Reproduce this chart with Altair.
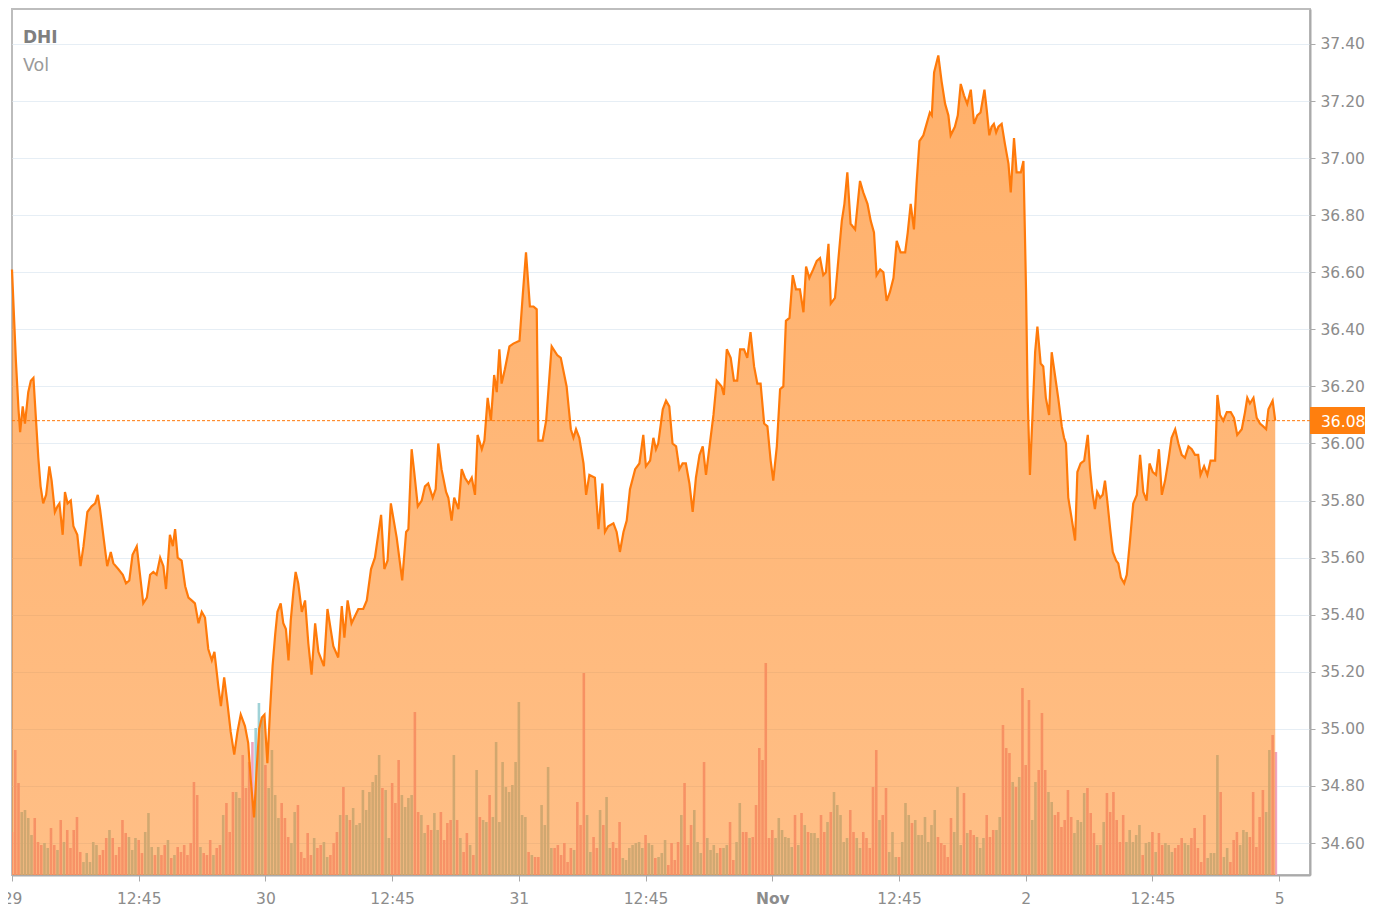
import altair as alt
import pandas as pd
import numpy as np

# ---- price line (x = 5-minute bar index since Oct 29 open, price in USD) ----
t_29 = [0, 1.2, 2.0, 2.5, 3.3, 4.0, 5.0, 5.8, 6.6, 7.4,
        8.1, 8.8, 9.6, 10.5, 11.5, 12.2, 13.2, 14.0, 14.6, 15.6,
        16.3, 17.1, 18.1, 18.9, 20.1, 21.1, 22.0, 23.2, 24.5, 25.6,
        26.4, 27.1, 28.3, 29.3, 30.4, 31.2, 32.7, 34.1, 35.1, 36.1,
        37.1, 38.4, 39.4, 40.4, 41.5, 42.5, 43.5, 44.5, 45.6, 46.6,
        47.4, 48.6, 49.5, 50.2, 51.0, 52.2, 53.3, 54.3, 55.3, 56.3,
        57.4, 58.4, 59.4, 60.4, 61.5, 62.3, 63.5, 64.3, 65.3, 66.3,
        67.3, 68.4, 69.4, 70.4, 71.7, 72.7, 73.5, 74.5, 75.3, 76.1,
        76.9, 77.7, 78.6, 79.4, 80.2, 81.0, 81.7, 82.7, 83.5, 84.3,
        85.1, 85.8, 86.6, 87.3, 88.1, 89.2, 90.2, 91.2, 92.2, 93.3,
        94.3]
p_29 = [36.61, 36.29, 36.12, 36.04, 36.13, 36.07, 36.18, 36.22, 36.23, 36.08,
        35.95, 35.85, 35.79, 35.82, 35.92, 35.87, 35.76, 35.78, 35.79, 35.68,
        35.83, 35.79, 35.80, 35.71, 35.68, 35.57, 35.64, 35.76, 35.78, 35.79,
        35.82, 35.77, 35.66, 35.57, 35.62, 35.58, 35.56, 35.54, 35.51, 35.52,
        35.61, 35.64, 35.54, 35.44, 35.46, 35.54, 35.55, 35.54, 35.60, 35.57,
        35.49, 35.68, 35.64, 35.70, 35.60, 35.59, 35.50, 35.46, 35.45, 35.44,
        35.37, 35.41, 35.39, 35.28, 35.24, 35.27, 35.15, 35.08, 35.18, 35.09,
        34.99, 34.91, 34.99, 35.05, 35.01, 34.95, 34.82, 34.69, 34.86, 35.00,
        35.04, 35.05, 34.88, 35.06, 35.22, 35.33, 35.41, 35.44, 35.37, 35.35,
        35.24, 35.38, 35.48, 35.55, 35.51, 35.41, 35.45, 35.30, 35.19, 35.37,
        35.27]

t_30 = [96.0, 97.1, 98.9, 100.4, 101.5, 102.3, 103.3, 104.5, 106.6, 108.1,
        109.2, 110.5, 111.7, 113.6, 114.6, 115.6, 116.6, 118.4, 120.1, 121.3,
        122.0, 123.0, 123.8, 124.9, 126.1, 127.1, 128.1, 129.5, 130.4, 131.2,
        132.2, 133.6, 134.3, 135.3, 136.1, 137.4, 138.4, 139.4, 140.5, 141.5,
        142.5, 143.3, 144.6, 145.4, 146.4, 147.4, 148.4, 149.2, 150.0, 150.7,
        151.7, 153.1, 154.3, 156.2, 157.2, 158.2, 159.4, 160.5, 161.5, 162.0,
        163.3, 164.4, 166.1, 167.8, 168.9, 170.7, 172.0, 172.8, 173.6, 174.6,
        175.9, 176.7, 177.7, 179.4, 180.5, 181.7, 182.5, 183.5, 185.1, 186.1,
        187.1, 188.2, 189.2, 190.2, 191.8, 193.1]
p_30 = [35.22, 35.42, 35.29, 35.25, 35.43, 35.32, 35.45, 35.37, 35.42, 35.42,
        35.45, 35.56, 35.60, 35.75, 35.56, 35.59, 35.79, 35.67, 35.52, 35.69,
        35.70, 35.98, 35.90, 35.78, 35.80, 35.85, 35.86, 35.81, 35.84, 36.00,
        35.91, 35.83, 35.81, 35.73, 35.81, 35.77, 35.91, 35.88, 35.86, 35.88,
        35.82, 36.03, 35.98, 36.01, 36.16, 36.08, 36.24, 36.18, 36.33, 36.21,
        36.26, 36.34, 36.35, 36.36, 36.52, 36.67, 36.48, 36.48, 36.47, 36.01,
        36.01, 36.08, 36.34, 36.31, 36.30, 36.20, 36.05, 36.02, 36.05, 36.02,
        35.93, 35.82, 35.89, 35.88, 35.70, 35.86, 35.69, 35.71, 35.72, 35.69,
        35.62, 35.69, 35.73, 35.84, 35.91, 35.93]

t_31 = [194.3, 195.1, 196.4, 197.4, 198.2, 198.9, 200.3, 201.3, 202.3, 203.3,
        204.4, 205.4, 206.4, 207.4, 208.5, 209.5, 210.5, 211.6, 212.6, 213.6,
        214.8, 215.9, 216.9, 218.4, 219.1, 220.0, 221.2, 222.2, 223.2, 224.1,
        225.3, 226.3, 227.3, 228.4, 229.4, 230.4, 231.5, 232.5, 233.5, 234.3]
p_31 = [36.03, 35.92, 35.94, 36.02, 35.98, 36.00, 36.12, 36.15, 36.13, 36.00,
        35.99, 35.91, 35.93, 35.93, 35.86, 35.76, 35.88, 35.96, 35.99, 35.89,
        36.00, 36.10, 36.22, 36.20, 36.17, 36.33, 36.30, 36.22, 36.22, 36.33,
        36.33, 36.30, 36.39, 36.27, 36.21, 36.21, 36.07, 36.06, 35.94, 35.87]

t_nov1 = [235.4, 236.4, 237.4, 238.2, 239.3, 240.3, 241.3, 242.5, 243.6, 244.4,
          245.4, 246.6, 247.7, 248.7, 249.7, 250.5, 251.3, 252.0, 253.3, 254.3,
          255.4, 256.2, 257.1, 258.1, 259.5, 261.0, 262.0, 263.3, 264.3, 265.3,
          266.1, 267.2, 268.2, 269.2, 270.2, 271.3, 272.3, 273.5, 274.9, 275.7,
          276.6, 277.6, 278.4, 279.3, 280.5, 281.5, 282.5, 283.1, 283.8, 285.1,
          286.1, 287.2, 288.2, 288.9, 290.2, 291.1, 292.0, 293.0, 294.0, 295.1,
          296.1, 297.1, 298.1, 299.3, 300.0, 300.8, 301.5, 302.2, 302.9, 303.6,
          304.6, 305.6, 306.7, 307.4, 308.4, 309.2, 310.5, 311.3]
p_nov1 = [35.99, 36.19, 36.20, 36.43, 36.44, 36.59, 36.54, 36.54, 36.46, 36.62,
          36.58, 36.61, 36.64, 36.65, 36.59, 36.60, 36.70, 36.49, 36.51, 36.64,
          36.78, 36.84, 36.95, 36.77, 36.75, 36.92, 36.88, 36.84, 36.78, 36.74,
          36.59, 36.61, 36.60, 36.50, 36.53, 36.58, 36.71, 36.67, 36.67, 36.74,
          36.84, 36.75, 36.91, 37.06, 37.08, 37.12, 37.16, 37.15, 37.30, 37.36,
          37.27, 37.19, 37.15, 37.08, 37.11, 37.15, 37.26, 37.22, 37.19, 37.24,
          37.12, 37.15, 37.16, 37.24, 37.17, 37.08, 37.11, 37.12, 37.09, 37.11,
          37.12, 37.05, 36.98, 36.88, 37.07, 36.95, 36.95, 36.99]

t_nov2 = [312.1, 312.6, 313.3, 314.1, 314.9, 315.6, 316.6, 317.4, 318.2, 319.2,
          320.0, 321.0, 322.0, 323.1, 323.8, 324.4, 325.1, 326.1, 327.2, 327.9,
          328.9, 330.0, 331.1, 331.8, 332.5, 333.3, 334.0, 334.9, 335.7, 336.4,
          337.1, 338.0, 338.8, 339.8, 340.5, 341.3, 342.3, 343.1, 344.1, 345.1,
          346.2, 347.2, 348.2, 349.2, 350.1, 351.1, 352.1, 353.0, 353.9, 354.9,
          355.9, 356.9, 358.0, 359.0, 360.0, 361.0, 362.1, 363.1, 364.1, 365.1,
          365.8, 366.9, 367.9, 368.9, 370.3, 371.0, 371.8, 372.8, 373.9, 375.1,
          376.1, 377.1, 378.5, 379.5, 380.2, 381.0, 382.1, 383.1, 384.1, 385.1,
          386.0, 386.7, 388.0, 388.8]
p_nov2 = [36.54, 36.16, 35.89, 36.10, 36.32, 36.41, 36.28, 36.27, 36.16, 36.10,
          36.32, 36.24, 36.16, 36.06, 36.02, 36.00, 35.81, 35.74, 35.66, 35.90,
          35.93, 35.94, 36.03, 35.91, 35.83, 35.77, 35.83, 35.81, 35.82, 35.87,
          35.80, 35.70, 35.62, 35.59, 35.58, 35.53, 35.51, 35.54, 35.66, 35.79,
          35.82, 35.96, 35.83, 35.80, 35.93, 35.90, 35.89, 35.98, 35.82, 35.87,
          35.94, 36.02, 36.05, 36.00, 35.96, 35.95, 35.99, 35.98, 35.96, 35.96,
          35.89, 35.92, 35.89, 35.94, 35.94, 36.17, 36.10, 36.08, 36.11, 36.11,
          36.09, 36.03, 36.05, 36.11, 36.16, 36.14, 36.16, 36.09, 36.07, 36.06,
          36.05, 36.12, 36.15, 36.08]

# ---- volume per 5-minute bar (thousand shares), first and second half ----
vol_a = [43, 125, 92, 63, 65, 57, 40, 57, 33, 30, 32, 27, 47, 30, 25, 55, 33, 45, 27, 45,
         58, 23, 13, 22, 13, 33, 30, 20, 25, 37, 45, 37, 20, 28, 55, 42, 38, 25, 37, 35,
         22, 43, 62, 28, 20, 28, 20, 30, 35, 17, 20, 28, 23, 30, 20, 32, 93, 80, 28, 22,
         20, 35, 20, 27, 30, 60, 72, 43, 83, 83, 77, 120, 87, 113, 133, 147, 172, 157, 110, 87,
         125, 80, 57, 72, 57, 38, 32, 63, 70, 23, 17, 42, 20, 37, 27, 30, 33, 18, 20, 32,
         43, 60, 88, 60, 55, 67, 50, 52, 85, 65, 83, 93, 100, 120, 87, 85, 37, 92, 72, 115,
         80, 68, 77, 80, 163, 63, 60, 42, 50, 45, 62, 45, 63, 35, 52, 55, 120, 55, 37, 23,
         42, 30, 20, 105, 58, 55, 53, 80, 58, 133, 53, 113, 88, 83, 90, 113, 173, 60, 58, 23,
         20, 18, 18, 70, 50, 108, 27, 27, 30, 20, 32, 13, 27, 25, 73, 50, 202, 60, 23, 38,
         27, 65, 50, 78, 27, 33, 27, 53, 17, 15, 27, 30, 32, 33, 27, 40, 32, 30]
vol_b = [17, 18, 22, 35, 10, 32, 15, 33, 60, 92, 30, 50, 65, 33, 22, 113, 37, 25, 30, 22,
         27, 27, 30, 53, 15, 33, 72, 43, 43, 37, 38, 70, 127, 115, 212, 37, 45, 37, 57, 45,
         38, 37, 28, 60, 30, 62, 50, 43, 42, 42, 37, 60, 43, 53, 63, 83, 70, 60, 33, 37,
         65, 43, 37, 27, 43, 37, 27, 88, 125, 55, 60, 87, 23, 43, 18, 18, 33, 72, 60, 52,
         55, 40, 40, 58, 33, 50, 65, 38, 32, 30, 18, 57, 43, 88, 30, 82, 42, 45, 40, 38,
         27, 37, 60, 38, 45, 45, 58, 150, 127, 122, 93, 88, 98, 187, 110, 175, 55, 93, 105, 162,
         105, 83, 73, 60, 63, 48, 55, 85, 58, 42, 55, 53, 82, 87, 62, 42, 30, 30, 53, 82,
         63, 83, 55, 33, 60, 33, 45, 33, 40, 50, 20, 32, 33, 43, 23, 42, 30, 32, 30, 23,
         27, 30, 37, 32, 30, 37, 47, 27, 13, 60, 17, 22, 22, 120, 83, 18, 27, 13, 35, 43,
         30, 45, 43, 38, 83, 28, 58, 85, 63, 125, 140, 123]

# ---- axis ticks ----
tick_values = [0, 39, 78, 117, 156, 195, 234, 273, 312, 351, 390]
tick_labels = ["29", "12:45", "30", "12:45", "31", "12:45", "Nov", "12:45", "2", "12:45", "5"]
price_ticks = [34.6, 34.8, 35.0, 35.2, 35.4, 35.6, 35.8, 36.0, 36.2, 36.4, 36.6, 36.8, 37.0, 37.2, 37.4]
last_price = 36.08
symbol = "DHI"
vol_label = "Vol"

# ---- frames ----
line_t = t_29 + t_30 + t_31 + t_nov1 + t_nov2
line_p = p_29 + p_30 + p_31 + p_nov1 + p_nov2
line_df = pd.DataFrame({"t": line_t, "price": line_p})

vol = (vol_a + vol_b)[:390]
bar_i = np.arange(len(vol))
cur = np.interp(bar_i + 0.5, line_t, line_p)
prev = np.interp(bar_i - 0.5, line_t, line_p)
vol_df = pd.DataFrame({"i": bar_i, "vol": vol,
                       "dir": np.where(cur >= prev, "up", "down")})

last_df = pd.DataFrame({"price": [last_price]})

W, H = 1298, 866
Y_LO, Y_HI = 34.4879, 37.5226
VOL_MAX = 866.0  # volume axis top (thousand shares), hidden; spans the full plot height
xscale = alt.Scale(domain=[0, 399.5], nice=False, zero=False, padding=0)
yscale = alt.Scale(domain=[Y_LO, Y_HI], nice=False, zero=False, padding=0)

GREY = "#8c8c8c"
FONT = "DejaVu Sans"
label_expr = " : ".join(f"datum.value == {v} ? '{l}'" for v, l in zip(tick_values, tick_labels)) + " : ''"

xaxis = alt.Axis(values=tick_values, labelExpr=label_expr, grid=False, title=None,
                 tickSize=6, tickColor="#aaaaaa", domainColor="#aaaaaa", domainWidth=2,
                 labelFont=FONT, labelFontSize=15.5, labelColor=GREY, labelPadding=10,
                 labelFlush=False, labelOverlap=False, labelBound=False,
                 labelFontWeight={"condition": {"test": "datum.value == 234", "value": "bold"},
                                  "value": "normal"})
yaxis = alt.Axis(orient="right", values=price_ticks, format=".2f", title=None,
                 grid=True, gridColor="#e6eef5", gridWidth=1,
                 tickSize=5, tickColor="#aaaaaa", domainColor="#aaaaaa", domainWidth=2,
                 labelFont=FONT, labelFontSize=15.5, labelColor=GREY, labelPadding=5,
                 labelFlush=False, labelOverlap=False)

# volume bars drawn in the bottom of the price panel (volume mapped linearly onto the panel height)
bars = alt.Chart(vol_df).transform_calculate(
    vtop=f"{Y_LO} + datum.vol / {VOL_MAX} * ({Y_HI} - {Y_LO})",
    vbase=f"{Y_LO}",
).mark_bar(size=2.6, clip=True).encode(
    x=alt.X("i:Q", scale=xscale, axis=xaxis),
    y=alt.Y("vtop:Q", scale=yscale, axis=yaxis),
    y2="vbase:Q",
    color=alt.Color("dir:N", scale=alt.Scale(domain=["up", "down"], range=["#a0d2d7", "#eea5c0"]),
                    legend=None),
)

gradient = alt.Gradient(
    gradient="linear",
    stops=[alt.GradientStop(color="rgba(255,127,14,0.62)", offset=0),
           alt.GradientStop(color="rgba(255,127,14,0.5)", offset=1)],
    x1=1, x2=1, y1=0, y2=1,
)
area = alt.Chart(line_df).mark_area(color=gradient, clip=True).encode(
    x=alt.X("t:Q", scale=xscale, axis=xaxis),
    y=alt.Y("price:Q", scale=yscale, axis=yaxis),
    y2=alt.datum(Y_LO),
)
line = alt.Chart(line_df).mark_line(color="#ff7a0a", strokeWidth=2.2).encode(
    x=alt.X("t:Q", scale=xscale, axis=xaxis),
    y=alt.Y("price:Q", scale=yscale, axis=yaxis),
)
rule = alt.Chart(last_df).mark_rule(color="#ff7a0a", strokeDash=[3, 2], strokeWidth=1).encode(
    y=alt.Y("price:Q", scale=yscale, axis=yaxis),
)
box = alt.Chart(last_df).transform_calculate(
    top="datum.price + 0.048", bot="datum.price - 0.047"
).mark_rect(color="#ff7f0e").encode(
    x=alt.value(W), x2=alt.value(W + 56),
    y=alt.Y("top:Q", scale=yscale, axis=yaxis), y2="bot:Q",
)
box_text = alt.Chart(last_df).mark_text(
    color="white", font=FONT, fontSize=15.5, align="left", baseline="middle", dy=1
).encode(
    x=alt.value(W + 11),
    y=alt.Y("price:Q", scale=yscale, axis=yaxis),
    text=alt.Text("price:Q", format=".2f"),
)
sym_text = alt.Chart(pd.DataFrame({"label": [symbol]})).mark_text(
    color="#7f7f7f", font=FONT, fontSize=17, fontWeight="bold",
    align="left", baseline="alphabetic"
).encode(x=alt.value(11), y=alt.value(34), text="label:N")
vol_text = alt.Chart(pd.DataFrame({"label": [vol_label]})).mark_text(
    color="#9a9a9a", font=FONT, fontSize=17.5,
    align="left", baseline="alphabetic"
).encode(x=alt.value(11), y=alt.value(62), text="label:N")

chart = alt.layer(bars, area, line, rule, box, box_text, sym_text, vol_text).properties(
    width=W, height=H,
    padding={"left": 4, "top": 1, "right": 55, "bottom": 34},
    autosize=alt.AutoSizeParams(type="none"),
).configure_view(stroke="#bdbdbd", strokeWidth=2)

chart.save("out.html", embed_options={"renderer": "svg", "actions": False})
